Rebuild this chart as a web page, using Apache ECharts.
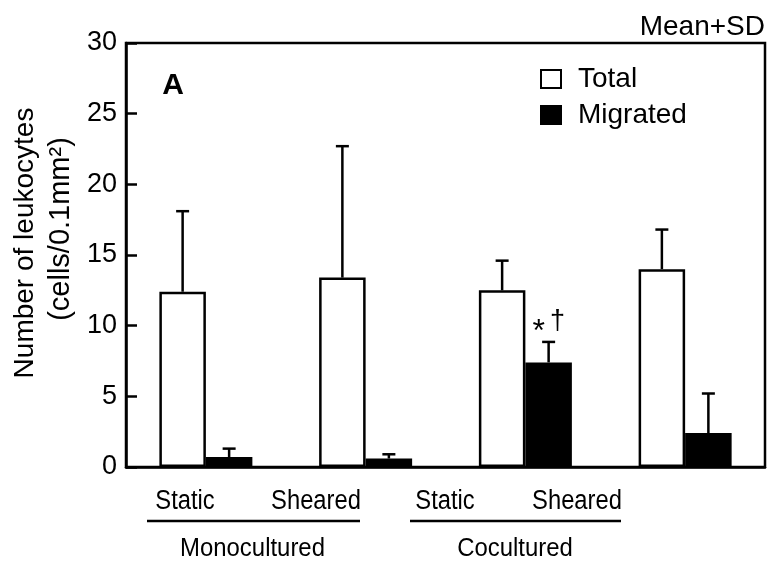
<!DOCTYPE html>
<html>
<head>
<meta charset="utf-8">
<script src="https://cdn.jsdelivr.net/npm/echarts@6/dist/echarts.min.js"></script>
<style>
html,body{margin:0;padding:0;background:#fff;}
#chart{width:769px;height:564px;}
</style>
</head>
<body>
<div id="chart"></div>
<script>
// ---- data ----
var conditions = ['Static', 'Sheared', 'Static', 'Sheared'];
var cultures = ['Monocultured', 'Cocultured'];
var seriesNames = ['Total', 'Migrated'];
var totalMean = [12.4, 13.4, 12.5, 14.0];
var totalSD = [5.7, 9.3, 2.1, 2.8];
var migratedMean = [0.7, 0.6, 7.4, 2.4];
var migratedSD = [0.6, 0.3, 1.45, 2.8];
var migratedMarks = ['', '', '*|†', ''];
var yTicks = [0, 5, 10, 15, 20, 25, 30];
var yTitle = ['Number of leukocytes', '(cells/0.1mm²)'];
var cornerNote = 'Mean+SD';
var panelLetter = 'A';

var FONT = '"Liberation Sans", Arial, sans-serif';
var BAR_W = 46.5;

var chart = echarts.init(document.getElementById('chart'), null, {renderer: 'canvas'});

function errRender(offset, marks) {
  return function (params, api) {
    var i = api.value(0);
    var base = api.coord([i, api.value(1)]);
    var top = api.coord([i, api.value(1) + api.value(2)]);
    var x = base[0] + offset;
    var children = [
      {type: 'line', shape: {x1: x, y1: base[1], x2: x, y2: top[1]}, style: {stroke: '#000', lineWidth: 2.5}},
      {type: 'line', shape: {x1: x - 6.5, y1: top[1], x2: x + 6.5, y2: top[1]}, style: {stroke: '#000', lineWidth: 2.5}}
    ];
    if (marks && marks[params.dataIndex]) {
      var m = marks[params.dataIndex].split('|');
      children.push({type: 'text', x: x - 10, y: top[1] - 10,
        style: {text: m[0], font: '32px ' + FONT, fill: '#000', align: 'center', verticalAlign: 'middle'}});
      children.push({type: 'text', x: x + 9, y: top[1] - 20,
        style: {text: m[1], font: '27px ' + FONT, fill: '#000', align: 'center', verticalAlign: 'middle'}});
    }
    return {type: 'group', children: children};
  };
}

var xLabelPos = [185, 316, 445, 577];
var groupPos = [252.5, 515];
var underline = [[147, 360], [410, 621]];

var graphics = [];
conditions.forEach(function (c, i) {
  graphics.push({type: 'text', x: xLabelPos[i], y: 502, scaleX: 0.88,
    style: {text: c, font: '27px ' + FONT, fill: '#000', textAlign: 'center', textVerticalAlign: 'middle'}});
});
cultures.forEach(function (c, i) {
  graphics.push({type: 'text', x: groupPos[i], y: 549, scaleX: 0.92,
    style: {text: c, font: '26px ' + FONT, fill: '#000', textAlign: 'center', textVerticalAlign: 'middle'}});
  graphics.push({type: 'line', shape: {x1: underline[i][0], y1: 521, x2: underline[i][1], y2: 521},
    style: {stroke: '#000', lineWidth: 2.5}});
});
graphics.push({type: 'text', x: 25, y: 243, rotation: Math.PI / 2,
  style: {text: yTitle[0], font: '28px ' + FONT, fill: '#000', textAlign: 'center', textVerticalAlign: 'middle'}});
graphics.push({type: 'text', x: 61, y: 229, rotation: Math.PI / 2,
  style: {text: yTitle[1], font: '29px ' + FONT, fill: '#000', textAlign: 'center', textVerticalAlign: 'middle'}});
graphics.push({type: 'text', x: 765, y: 27,
  style: {text: cornerNote, font: '28px ' + FONT, fill: '#000', textAlign: 'right', textVerticalAlign: 'middle'}});
graphics.push({type: 'text', x: 173, y: 86,
  style: {text: panelLetter, font: 'bold 30px ' + FONT, fill: '#000', textAlign: 'center', textVerticalAlign: 'middle'}});

var option = {
  animation: false,
  backgroundColor: '#fff',
  textStyle: {fontFamily: FONT},
  grid: {left: 126, right: 4, top: 43, bottom: 97, show: true, borderColor: '#000', borderWidth: 2.5, backgroundColor: 'transparent'},
  legend: {
    orient: 'vertical', left: 535, top: 60, itemWidth: 20, itemHeight: 18, itemGap: 8,
    icon: 'rect',
    data: seriesNames,
    textStyle: {fontSize: 28, color: '#000', fontFamily: FONT, lineHeight: 28, padding: [0, 0, 0, 12]}
  },
  xAxis: {
    type: 'category', data: conditions,
    axisLine: {lineStyle: {color: '#000', width: 2.5}},
    axisTick: {show: false}, axisLabel: {show: false}, splitLine: {show: false}
  },
  yAxis: {
    type: 'value', min: yTicks[0], max: yTicks[yTicks.length - 1], interval: 5,
    axisLine: {show: true, lineStyle: {color: '#000', width: 2.5}},
    axisTick: {show: true, inside: true, length: 11, lineStyle: {color: '#000', width: 2.5}},
    axisLabel: {fontSize: 27, color: '#000', fontFamily: FONT, margin: 9},
    splitLine: {show: false}
  },
  series: [
    {name: seriesNames[0], type: 'bar', data: totalMean, barWidth: BAR_W, barGap: '0%',
      itemStyle: {color: '#fff', borderColor: '#000', borderWidth: 2.5}},
    {name: seriesNames[1], type: 'bar', data: migratedMean, barWidth: BAR_W, barGap: '0%',
      itemStyle: {color: '#000', borderColor: '#000', borderWidth: 2.5}},
    {type: 'custom', renderItem: errRender(-BAR_W / 2, null), z: 5,
      data: totalMean.map(function (v, i) { return [i, v, totalSD[i]]; }), encode: {x: 0, y: 1}},
    {type: 'custom', renderItem: errRender(BAR_W / 2, migratedMarks), z: 5,
      data: migratedMean.map(function (v, i) { return [i, v, migratedSD[i]]; }), encode: {x: 0, y: 1}}
  ],
  graphic: graphics
};
chart.setOption(option);
</script>
</body>
</html>
